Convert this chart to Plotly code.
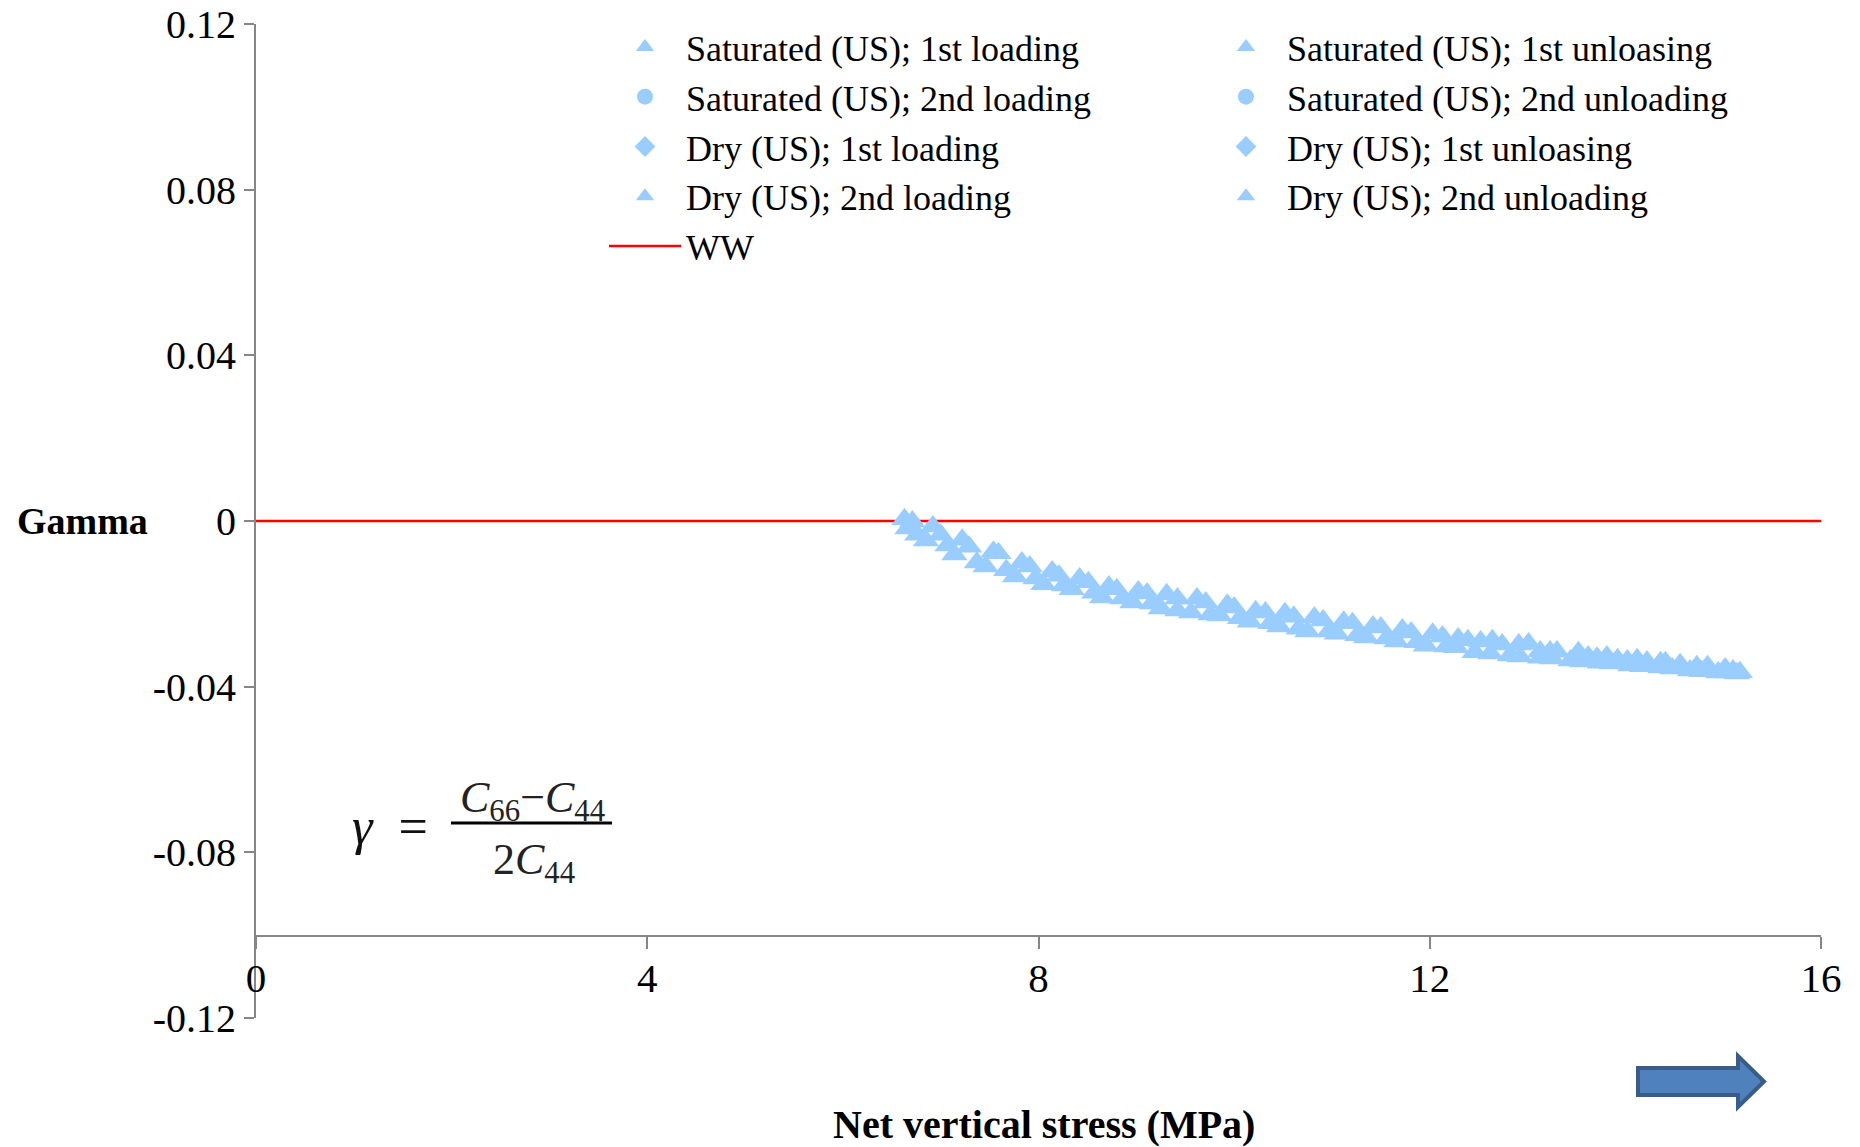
import plotly.graph_objects as go

# ---------------- data ----------------
upper_x = [6.63, 6.71, 6.92, 7.00, 7.22, 7.29, 7.54, 7.59, 7.83, 7.91, 8.14, 8.21, 8.42, 8.51,
           8.72, 8.80, 9.02, 9.11, 9.31, 9.42, 9.62, 9.71, 9.93, 10.00, 10.22, 10.32, 10.52,
           10.61, 10.82, 10.91, 11.12, 11.21, 11.42, 11.50, 11.72, 11.81, 12.03, 12.13, 12.29,
           12.39, 12.52, 12.64, 12.74, 12.91, 13.01, 13.13, 13.23, 13.30, 13.52, 13.62, 13.71,
           13.81, 13.92, 14.02, 14.12, 14.22, 14.36, 14.41, 14.56, 14.73, 14.84, 15.02, 15.10, 15.17]
upper_y = [0.0004, -0.0001, -0.0013, -0.0033, -0.0045, -0.0062, -0.0074, -0.0078, -0.0100, -0.0110,
           -0.0122, -0.0132, -0.0139, -0.0148, -0.0158, -0.0165, -0.0170, -0.0175, -0.0177, -0.0187,
           -0.0187, -0.0197, -0.0202, -0.0209, -0.0218, -0.0221, -0.0223, -0.0231, -0.0233, -0.0240,
           -0.0243, -0.0247, -0.0255, -0.0257, -0.0262, -0.0269, -0.0272, -0.0279, -0.0284, -0.0288,
           -0.0291, -0.0288, -0.0298, -0.0298, -0.0296, -0.0315, -0.0315, -0.0315, -0.0317, -0.0327,
           -0.0330, -0.0327, -0.0334, -0.0337, -0.0334, -0.0339, -0.0341, -0.0341, -0.0346, -0.0351,
           -0.0351, -0.0356, -0.0361, -0.0365]

lower_x = [6.66, 6.76, 6.85, 7.07, 7.14, 7.37, 7.46, 7.67, 7.76, 7.97, 8.05, 8.26, 8.34, 8.57,
           8.65, 8.86, 8.96, 9.16, 9.25, 9.42, 9.56, 9.76, 9.85, 10.06, 10.16, 10.37, 10.46, 10.66,
           10.75, 10.97, 11.05, 11.26, 11.35, 11.56, 11.66, 11.87, 11.96, 12.17, 12.27, 12.46, 12.62,
           12.82, 12.92, 13.13, 13.25, 13.44, 13.56, 13.74, 13.86, 14.05, 14.17, 14.36, 14.48, 14.66,
           14.78, 14.95, 15.05, 15.14]
lower_y = [-0.0018, -0.0033, -0.0047, -0.0059, -0.0081, -0.0100, -0.0110, -0.0119, -0.0134, -0.0139,
           -0.0153, -0.0156, -0.0165, -0.0173, -0.0185, -0.0187, -0.0197, -0.0199, -0.0211, -0.0216,
           -0.0221, -0.0226, -0.0228, -0.0235, -0.0243, -0.0247, -0.0255, -0.0260, -0.0267, -0.0267,
           -0.0272, -0.0276, -0.0281, -0.0284, -0.0291, -0.0293, -0.0301, -0.0303, -0.0305, -0.0317,
           -0.0320, -0.0325, -0.0327, -0.0330, -0.0332, -0.0337, -0.0339, -0.0342, -0.0344, -0.0349,
           -0.0351, -0.0354, -0.0356, -0.0361, -0.0363, -0.0366, -0.0366, -0.0368]

ww_x = [0, 16]
ww_y = [0, 0]

x_tick_vals = [0, 4, 8, 12, 16]
x_tick_text = ["0", "4", "8", "12", "16"]
y_tick_vals = [0.12, 0.08, 0.04, 0, -0.04, -0.08, -0.12]
y_tick_text = ["0.12", "0.08", "0.04", "0", "-0.04", "-0.08", "-0.12"]

series_col1 = ["Saturated (US); 1st loading", "Saturated (US); 2nd loading",
               "Dry (US); 1st loading", "Dry (US); 2nd loading"]
series_col2 = ["Saturated (US); 1st unloasing", "Saturated (US); 2nd unloading",
               "Dry (US); 1st unloasing", "Dry (US); 2nd unloading"]
symbols = ["triangle-up", "circle", "diamond", "triangle-up"]

# ---------------- layout geometry ----------------
W, H = 1860, 1147
L, R, T, B = 256, 1821, 24, 1018
PW, PH = R - L, B - T

def px(xp):
    return (xp - L) / PW

def py(yp):
    return (B - yp) / PH

BLUE = "#99CCFF"
FONT = "Liberation Serif"
GRAY = "#868686"

fig = go.Figure()

data_map = {
    "Saturated (US); 1st loading": (upper_x, upper_y),
    "Dry (US); 2nd loading": (lower_x, lower_y),
}

fig.add_trace(go.Scatter(x=ww_x, y=ww_y, mode="lines", name="WW",
                         line=dict(color="#FF0000", width=2.5), legend="legend", legendrank=5))
for i, (name, sym) in enumerate(zip(series_col1, symbols)):
    xs, ys = data_map.get(name, ([None], [None]))
    fig.add_trace(go.Scatter(x=xs, y=ys, mode="markers", name=name,
                             marker=dict(symbol=sym, size=23, color=BLUE),
                             legend="legend", legendrank=i + 1, cliponaxis=False))
for i, (name, sym) in enumerate(zip(series_col2, symbols)):
    fig.add_trace(go.Scatter(x=[None], y=[None], mode="markers", name=name,
                             marker=dict(symbol=sym, size=23, color=BLUE),
                             legend="legend2", legendrank=i + 1))

legend_common = dict(font=dict(family=FONT, size=36, color="black"),
                     bgcolor="rgba(0,0,0,0)", xanchor="left", yanchor="top",
                     itemsizing="trace", tracegroupgap=0, traceorder="normal",
                     itemwidth=72)

fig.update_layout(
    width=W, height=H,
    margin=dict(l=L, r=W - R, t=T, b=H - B, autoexpand=False),
    paper_bgcolor="white", plot_bgcolor="white",
    showlegend=True,
    legend=dict(x=px(604), y=py(17), **legend_common),
    legend2=dict(x=px(1205), y=py(17), **legend_common),
    xaxis=dict(range=[0, 16], tickvals=x_tick_vals, ticktext=x_tick_text,
               showgrid=False, zeroline=False, showline=True, linecolor=GRAY, linewidth=2,
               ticks="outside", ticklen=12, tickwidth=1.5, tickcolor=GRAY,
               anchor="free", position=py(936), ticklabelstandoff=-6,
               tickfont=dict(family=FONT, size=41, color="black")),
    yaxis=dict(range=[-0.12, 0.12], tickvals=y_tick_vals, ticktext=y_tick_text,
               showgrid=False, zeroline=False, showline=True, linecolor=GRAY, linewidth=2,
               ticks="outside", ticklen=10, tickwidth=1.5, tickcolor=GRAY,
               tickfont=dict(family=FONT, size=40, color="black")),
)

def ann(text, x, y, size, color="black"):
    fig.add_annotation(text=text, xref="paper", yref="paper", x=px(x), y=py(y),
                       xanchor="center", yanchor="middle", showarrow=False,
                       font=dict(family=FONT, size=size, color=color))

# axis titles
ann("<b>Gamma</b>", 82, 521, 38)
ann("<b>Net vertical stress (MPa)</b>", 1044, 1124, 40)

# formula
ann("<i>γ</i>  =", 390, 826, 52, "#111111")
ann("<i>C</i><sub>66</sub>−<i>C</i><sub>44</sub>", 532, 800, 44, "#222222")
ann("2<i>C</i><sub>44</sub>", 534, 862, 44, "#222222")
fig.add_shape(type="line", xref="paper", yref="paper", x0=px(451), x1=px(612),
              y0=py(823), y1=py(823), line=dict(color="black", width=3))

# arrow decoration
pts = [(1638, 1068), (1738, 1068), (1738, 1056), (1764, 1081.5), (1738, 1107),
       (1738, 1095), (1638, 1095)]
path = "M " + " L ".join(f"{px(a):.5f},{py(b):.5f}" for a, b in pts) + " Z"
fig.add_shape(type="path", xref="paper", yref="paper", path=path,
              fillcolor="#4F81BD", line=dict(color="#385D8A", width=4))

fig.write_html("out.html")
